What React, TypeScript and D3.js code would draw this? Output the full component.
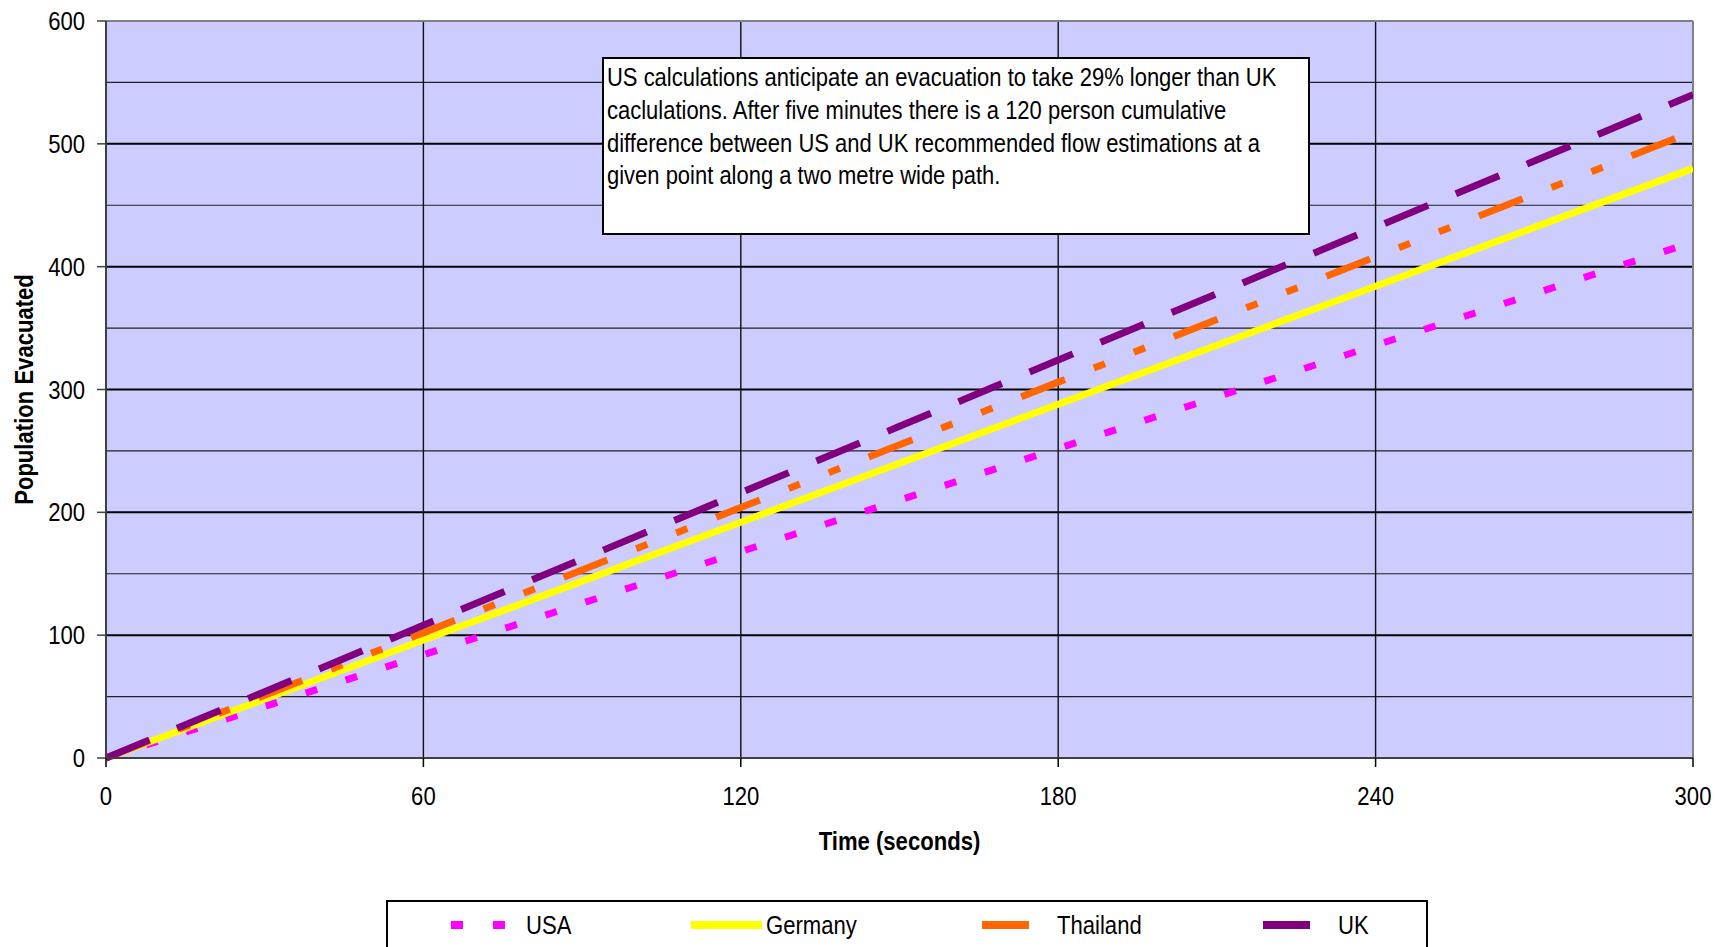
import React from "react";
import * as d3 from "d3";

const times = [0, 30, 60, 90, 120, 150, 180, 210, 240, 270, 300];
const usa = [0, 42, 84, 126, 168, 210, 252, 294, 336, 378, 420];
const germany = [0, 48, 96, 144, 192, 240, 288, 336, 384, 432, 480];
const thailand = [0, 51, 102, 153, 204, 255, 306, 357, 408, 459, 510];
const uk = [0, 54, 108, 162, 216, 270, 324, 378, 432, 486, 540];

const xTicks = [0, 60, 120, 180, 240, 300];
const yTicks = [0, 100, 200, 300, 400, 500, 600];
const yMinor = [50, 150, 250, 350, 450, 550];

const seriesNames = ["USA", "Germany", "Thailand", "UK"];
const seriesValues = [usa, germany, thailand, uk];
const seriesColors = ["#FF00FF", "#FFFF00", "#FF6600", "#800080"];
const seriesDash = ["12 30", "", "47 31 12 31 12 31", "47 30"];

const annotationLines = [
  "US calculations anticipate an evacuation to take 29% longer than UK",
  "caclulations. After five minutes there is a 120 person cumulative",
  "difference between US and UK recommended flow estimations at a",
  "given point along a two metre wide path.",
];

const legendX = [451, 691, 982, 1263];

const FONT = "'Liberation Sans Narrow', 'Arial Narrow', 'Liberation Sans', Arial, sans-serif";
const SX = 0.85;

type NTProps = {
  x: number;
  y: number;
  anchor?: "start" | "middle" | "end";
  size?: number;
  bold?: boolean;
  rotate?: number;
  sx?: number;
  children: React.ReactNode;
};

function NText({ x, y, anchor = "start", size = 26, bold = false, rotate = 0, sx = SX, children }: NTProps) {
  return (
    <text
      transform={`translate(${x},${y}) rotate(${rotate}) scale(${sx},1)`}
      dy="0.35em"
      textAnchor={anchor}
      fontSize={size}
      fontWeight={bold ? "bold" : "normal"}
      fill="#000"
    >
      {children}
    </text>
  );
}

export default function App() {
  const W = 1715;
  const H = 947;
  const left = 106, right = 1693, top = 21, bottom = 758;
  const x = d3.scaleLinear().domain([0, 300]).range([left, right]);
  const y = d3.scaleLinear().domain([0, 600]).range([bottom, top]);

  const lineGen = (vals: number[]) =>
    d3
      .line<number>()
      .x((_, i) => x(times[i]))
      .y((v) => y(v))(vals) || "";

  return (
    <div style={{ position: "fixed", left: 0, top: 0, width: W, height: H, background: "#fff" }}>
      <svg width={W} height={H} style={{ display: "block" }} fontFamily={FONT}>
        <defs>
          <clipPath id="plotclip">
            <rect x={left - 2} y={top} width={right - left + 2} height={bottom - top + 4} />
          </clipPath>
        </defs>
        <rect x={left} y={top} width={right - left} height={bottom - top} fill="#CCCCFF" />
        {yMinor.map((v) => (
          <line key={"mn" + v} x1={left} x2={right} y1={y(v)} y2={y(v)} stroke="#222" strokeWidth={1.2} />
        ))}
        {yTicks.slice(1, -1).map((v) => (
          <line key={"mj" + v} x1={left} x2={right} y1={y(v)} y2={y(v)} stroke="#000" strokeWidth={2} />
        ))}
        {xTicks.slice(1, -1).map((v) => (
          <line key={"vx" + v} x1={x(v)} x2={x(v)} y1={top} y2={bottom} stroke="#111" strokeWidth={1.4} />
        ))}
        <line x1={left} x2={right} y1={top} y2={top} stroke="#808080" strokeWidth={2} />
        <line x1={right} x2={right} y1={top} y2={bottom} stroke="#808080" strokeWidth={2} />

        <g clipPath="url(#plotclip)">
          {seriesValues.map((vals, i) => (
            <path
              key={seriesNames[i]}
              d={lineGen(vals)}
              fill="none"
              stroke={seriesColors[i]}
              strokeWidth={7}
              strokeDasharray={seriesDash[i] || undefined}
              strokeLinecap="butt"
            />
          ))}
        </g>

        <line x1={left} x2={left} y1={top} y2={bottom} stroke="#404040" strokeWidth={2} />
        <line x1={left} x2={right} y1={bottom} y2={bottom} stroke="#404040" strokeWidth={2} />

        {yTicks.map((v) => (
          <g key={"yt" + v}>
            <line x1={left - 9} x2={left} y1={y(v)} y2={y(v)} stroke="#404040" strokeWidth={1.5} />
            <NText x={85} y={y(v)} anchor="end">
              {v}
            </NText>
          </g>
        ))}
        {xTicks.map((v) => (
          <g key={"xt" + v}>
            <line x1={x(v)} x2={x(v)} y1={bottom} y2={bottom + 9} stroke="#000" strokeWidth={1.5} />
            <NText x={x(v)} y={796} anchor="middle">
              {v}
            </NText>
          </g>
        ))}

        <NText x={(left + right) / 2} y={841} anchor="middle" bold>
          Time (seconds)
        </NText>
        <NText x={24} y={(top + bottom) / 2} anchor="middle" bold rotate={-90}>
          Population Evacuated
        </NText>

        <rect x={603} y={58} width={706} height={176} fill="#fff" stroke="#000" strokeWidth={2} />
        {annotationLines.map((t, i) => (
          <NText key={i} x={607} y={77 + i * 32.8} size={25.5} sx={0.862}>
            {t}
          </NText>
        ))}

        <rect x={387} y={901} width={1040} height={70} fill="#fff" stroke="#000" strokeWidth={2} />
        {seriesNames.map((n, i) => (
          <g key={"lg" + n}>
            <line
              x1={legendX[i]}
              x2={legendX[i] + 71}
              y1={925}
              y2={925}
              stroke={seriesColors[i]}
              strokeWidth={8}
              strokeDasharray={seriesDash[i] || undefined}
            />
            <NText x={legendX[i] + 75} y={925}>
              {n}
            </NText>
          </g>
        ))}
      </svg>
    </div>
  );
}
